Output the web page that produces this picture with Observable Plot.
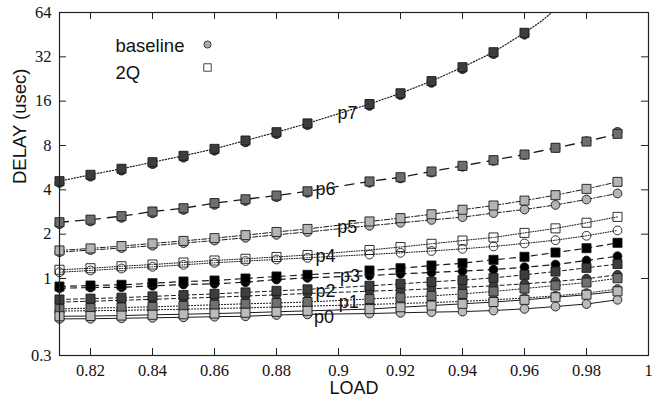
<!DOCTYPE html>
<html><head><meta charset="utf-8">
<script src="https://cdn.jsdelivr.net/npm/d3@7"></script>
<script src="https://cdn.jsdelivr.net/npm/@observablehq/plot@0.6"></script>
<style>
body{margin:0;background:#fff} svg{display:block}
.serif-lbl text{font-family:"Liberation Serif","Times New Roman",serif !important;}
.sans-lbl text{font-family:"Liberation Sans",Arial,sans-serif !important;}
</style>
</head><body><div id="chart"></div>
<script>
// LOAD values (0.90 has no data point; labels sit there)
const loadX  = [0.81,0.82,0.83,0.84,0.85,0.86,0.87,0.88,0.89,0.91,0.92,0.93,0.94,0.95,0.96,0.97,0.98,0.99];
const loadX7 = [0.81,0.82,0.83,0.84,0.85,0.86,0.87,0.88,0.89,0.91,0.92,0.93,0.94,0.95,0.96];

// DELAY (usec), baseline (circles) and 2Q (squares)
const p7TwoQ = [4.58,5.06,5.56,6.16,6.81,7.59,8.65,9.85,11.3,15.3,18.1,21.9,27.2,34.4,46.6];
const p7Base = [4.45,4.91,5.40,5.98,6.61,7.37,8.40,9.56,11.0,14.85,17.6,21.3,26.4,33.4,45.2];
const p7TailX = [0.965,0.97];
const p7TailTwoQ = [55,67];

const p6TwoQ = [2.41,2.51,2.65,2.85,3.00,3.25,3.45,3.66,3.91,4.56,4.87,5.33,5.82,6.36,6.95,7.72,8.51,9.60];
const p6Base = [2.34,2.44,2.58,2.77,2.92,3.16,3.36,3.57,3.82,4.47,4.78,5.24,5.74,6.29,6.90,7.70,8.55,9.90];

const p5TwoQ = [1.55,1.60,1.66,1.73,1.80,1.88,1.97,2.07,2.17,2.44,2.57,2.73,2.93,3.13,3.38,3.68,4.06,4.53];
const p5Base = [1.51,1.56,1.61,1.67,1.74,1.81,1.89,1.98,2.07,2.28,2.39,2.50,2.61,2.78,2.94,3.16,3.44,3.78];

const p4TwoQ = [1.146,1.174,1.211,1.244,1.284,1.325,1.361,1.400,1.444,1.561,1.636,1.72,1.81,1.90,2.04,2.19,2.39,2.62];
const p4Base = [1.103,1.133,1.169,1.200,1.238,1.278,1.314,1.346,1.382,1.455,1.494,1.537,1.59,1.65,1.73,1.82,1.95,2.12];

const p3TwoQ = [0.882,0.896,0.906,0.929,0.954,0.969,1.000,1.032,1.059,1.133,1.174,1.225,1.270,1.339,1.404,1.501,1.606,1.747];
const p3Base = [0.859,0.868,0.872,0.892,0.910,0.920,0.943,0.984,1.010,1.047,1.076,1.098,1.122,1.151,1.193,1.244,1.325,1.417];

const p2TwoQ = [0.720,0.730,0.741,0.756,0.771,0.786,0.805,0.824,0.844,0.892,0.920,0.949,0.975,1.010,1.059,1.115,1.181,1.254];
const p2Base = [0.692,0.701,0.711,0.722,0.734,0.746,0.760,0.775,0.791,0.820,0.833,0.851,0.871,0.892,0.920,0.954,0.997,1.059];

const p1TwoQ = [0.622,0.629,0.635,0.642,0.652,0.663,0.673,0.682,0.692,0.726,0.743,0.762,0.786,0.816,0.855,0.896,0.939,1.004];
const p1Base = [0.601,0.604,0.608,0.613,0.618,0.625,0.632,0.641,0.649,0.666,0.676,0.686,0.699,0.716,0.737,0.762,0.796,0.848];

const p0TwoQ = [0.554,0.556,0.560,0.567,0.572,0.578,0.585,0.594,0.603,0.620,0.638,0.655,0.673,0.692,0.716,0.746,0.776,0.818];
const p0Base = [0.532,0.533,0.537,0.541,0.545,0.550,0.554,0.565,0.571,0.578,0.585,0.591,0.596,0.606,0.622,0.645,0.671,0.717];

// series labels
const labelNames = ["p7","p6","p5","p4","p3","p2","p1","p0"];
const labelX     = [0.9029,0.8958,0.9028,0.8958,0.9037,0.8958,0.9033,0.8953];
const labelY     = [13.2,4.06,2.23,1.41,1.036,0.816,0.690,0.546];

// ticks
const xTicks = [0.82,0.84,0.86,0.88,0.90,0.92,0.94,0.96,0.98];
const xTickLabels = [0.82,0.84,0.86,0.88,0.9,0.92,0.94,0.96,0.98,1];
const yTicks = [1,2,4,8,16,32,64];
const yTickLabels = [0.3,1,2,4,8,16,32,64];

const legendNames = ["baseline","2Q"];

const W = 663, H = 398, mL = 59, mR = 15, mT = 12, mB = 43;
const plotW = W - mL - mR, plotH = H - mT - mB;

const zip = (xs, ys) => xs.map((x,i) => ({x, y: ys[i]}));

const series = [
  {x: loadX7, base: p7Base, twoQ: p7TwoQ, tailX: p7TailX, tailQ: p7TailTwoQ, single:true, fill:"#3d3d3d", dash:"1.2,1.8", sw:1.2},
  {x: loadX, base: p6Base, twoQ: p6TwoQ, single:true, fill:"#6e6e6e", dash:"9,7", sw:1.3},
  {x: loadX, base: p5Base, twoQ: p5TwoQ, fill:"#b4b4b4", dash:"5,2,1.2,2", sw:1},
  {x: loadX, base: p4Base, twoQ: p4TwoQ, fill:"none", dash:"1,1.5", sw:1},
  {x: loadX, base: p3Base, twoQ: p3TwoQ, fill:"#000000", dash:"6,5", sw:1.2},
  {x: loadX, base: p2Base, twoQ: p2TwoQ, fill:"#3d3d3d", dash:"4,3", sw:1},
  {x: loadX, base: p1Base, twoQ: p1TwoQ, fill:"#707070", dash:"1.2,1.8", sw:1},
  {x: loadX, base: p0Base, twoQ: p0TwoQ, fill:"#bcbcbc", dash:null, sw:1}
];

const marks = [];
for (const s of series) {
  const b = zip(s.x, s.base), q = zip(s.x, s.twoQ);
  const ql = s.tailX ? q.concat(zip(s.tailX, s.tailQ)) : q;
  const lines = s.single ? [ql] : [b, ql];
  for (const d of lines) {
    marks.push(Plot.line(d, {x:"x", y:"y", stroke:"#1a1a1a", strokeWidth:s.sw, strokeDasharray:s.dash, clip:true}));
  }
  marks.push(Plot.dot(b, {x:"x", y:"y", r:4.4, fill:s.fill, stroke:"#1a1a1a", strokeWidth:0.9}));
  marks.push(Plot.dot(q, {x:"x", y:"y", r:5.1, symbol:"square", fill:s.fill, stroke:"#1a1a1a", strokeWidth:0.9}));
}

const sansOpts = {fontSize:18.5, fill:"#111", className:"sans-lbl"};
const chart = Plot.plot({
  width: W, height: H,
  marginLeft: mL, marginRight: mR, marginTop: mT, marginBottom: mB,
  style: {background:"#fff", overflow:"visible"},
  x: {domain:[0.81,1.0], axis:null},
  y: {type:"log", domain:[0.3,64], axis:null},
  marks: [
    ...marks,
    Plot.text(labelNames, {x:(d,i)=>labelX[i], y:(d,i)=>labelY[i], text:d=>d, ...sansOpts, fontSize:18}),
    // frame + inward ticks on all four sides
    Plot.frame({stroke:"#222", strokeWidth:1.2}),
    Plot.tickX(xTicks, {x:d=>d, insetTop: plotH-7, stroke:"#222"}),
    Plot.tickX(xTicks, {x:d=>d, insetBottom: plotH-7, stroke:"#222"}),
    Plot.tickY(yTicks, {y:d=>d, insetRight: plotW-7, stroke:"#222"}),
    Plot.tickY(yTicks, {y:d=>d, insetLeft: plotW-7, stroke:"#222"}),
    // tick labels
    Plot.text(xTickLabels, {x:d=>d, text:d=>String(d), frameAnchor:"bottom", lineAnchor:"middle", dy:15, fontSize:16.5, fill:"#111", className:"serif-lbl"}),
    Plot.text(yTickLabels, {y:d=>d, text:d=>String(d), frameAnchor:"left", textAnchor:"end", dx:-8, fontSize:16.5, fill:"#111", className:"serif-lbl"}),
    // axis titles
    Plot.text(["LOAD"], {text:d=>d, frameAnchor:"bottom", lineAnchor:"middle", dy:33, ...sansOpts, fontSize:18}),
    Plot.text(["DELAY (usec)"], {text:d=>d, frameAnchor:"left", lineAnchor:"middle", rotate:-90, dx:-39, ...sansOpts}),
    // legend
    Plot.text([legendNames[0]], {text:d=>d, frameAnchor:"top-left", lineAnchor:"middle", dx:56, dy:34, textAnchor:"start", ...sansOpts}),
    Plot.text([legendNames[1]], {text:d=>d, frameAnchor:"top-left", lineAnchor:"middle", dx:56, dy:61, textAnchor:"start", ...sansOpts}),
    Plot.dot([legendNames[0]], {frameAnchor:"top-left", dx:148, dy:32, r:3.6, fill:"#aaaaaa", stroke:"#333", strokeWidth:0.9}),
    Plot.dot([legendNames[1]], {frameAnchor:"top-left", dx:148, dy:55, r:4.2, symbol:"square", fill:"#fff", stroke:"#333", strokeWidth:0.9})
  ]
});
document.getElementById("chart").appendChild(chart);
</script>
</body></html>
